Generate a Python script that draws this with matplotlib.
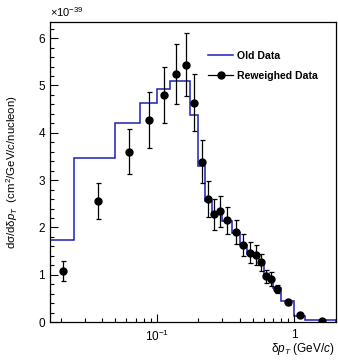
import numpy as np
import matplotlib
matplotlib.use("Agg")
import matplotlib.pyplot as plt
from matplotlib.lines import Line2D
from matplotlib.ticker import LogLocator, FixedLocator, FixedFormatter, MultipleLocator, NullFormatter

plt.rcParams["font.family"] = "Liberation Sans"
plt.rcParams["mathtext.fontset"] = "custom"
plt.rcParams["mathtext.rm"] = "Liberation Sans"
plt.rcParams["mathtext.it"] = "Liberation Sans:italic"
plt.rcParams["mathtext.bf"] = "Liberation Sans:bold"

# delta pT bins (GeV/c)
edges = np.array([0.0167, 0.025, 0.05, 0.075, 0.1, 0.125, 0.15, 0.175, 0.2, 0.225,
                  0.25, 0.275, 0.3, 0.35, 0.4, 0.45, 0.5, 0.55, 0.6, 0.65, 0.7,
                  0.8, 1.0, 1.2, 2.0])
# cross sections in units of 1e-39 cm^2/(GeV/c)/nucleon
old_data = [1.74, 3.47, 4.20, 4.62, 4.92, 5.10, 5.10, 4.37, 3.30, 2.55, 2.31, 2.32,
            2.13, 1.89, 1.62, 1.45, 1.39, 1.24, 1.01, 0.88, 0.72, 0.44, 0.13, 0.04]
reweighed = [1.08, 2.56, 3.60, 4.27, 4.80, 5.24, 5.44, 4.64, 3.39, 2.60, 2.28, 2.34,
             2.15, 1.91, 1.63, 1.47, 1.42, 1.27, 0.97, 0.91, 0.70, 0.42, 0.15, 0.03]
reweighed_err = [0.22, 0.38, 0.48, 0.60, 0.60, 0.63, 0.67, 0.60, 0.45, 0.38, 0.33, 0.33,
                 0.28, 0.25, 0.24, 0.22, 0.21, 0.18, 0.14, 0.14, 0.09, 0.05, 0.03, 0.01]

centers = 0.5 * (edges[:-1] + edges[1:])
blue = "#1f1fb8"

fig = plt.figure(figsize=(3.38, 3.64), dpi=100)
ax = fig.add_axes([0.148, 0.115, 0.845, 0.825])

ax.stairs(old_data, edges, color=blue, lw=1.1, baseline=0)
ax.errorbar(centers, reweighed, yerr=reweighed_err, fmt="o", color="black",
            ms=5, lw=0.9, capsize=1.8, capthick=0.9)

ax.set_xscale("log")
ax.set_xlim(edges[0], edges[-1])
ax.set_ylim(0, 6.345)

ax.xaxis.set_major_locator(FixedLocator([0.1, 1]))
ax.xaxis.set_major_formatter(FixedFormatter([r"$10^{-1}$", "1"]))
ax.xaxis.set_minor_locator(LogLocator(base=10, subs=np.arange(2, 10)))
ax.xaxis.set_minor_formatter(NullFormatter())
ax.yaxis.set_major_locator(MultipleLocator(1))
ax.yaxis.set_minor_locator(MultipleLocator(0.2))

ax.tick_params(which="both", direction="in", top=False, right=False, labelsize=8.5)
ax.tick_params(which="major", length=6, width=0.8)
ax.tick_params(which="minor", length=3, width=0.8)
ax.tick_params(axis="x", pad=5)
for s in ax.spines.values():
    s.set_linewidth(0.9)

ax.set_ylabel(r"dσ/dδ$p_{T}$  (cm$^{2}$/GeV/$c$/nucleon)", fontsize=8.2)
ax.yaxis.set_label_coords(-0.105, 0.5)
fig.text(0.99, 0.018, r"δ$p_{T}$ (GeV/$c$)", fontsize=8.5, ha="right", va="bottom")
fig.text(0.148, 0.948, r"$\times$10$^{-39}$", fontsize=8, ha="left", va="bottom")

handles = [Line2D([], [], color=blue, lw=1.1),
           Line2D([], [], color="black", lw=0.9, marker="o", ms=5)]
ax.legend(handles, ["Old Data", "Reweighed Data"], loc="upper left",
          bbox_to_anchor=(0.538, 0.917), frameon=False,
          prop={"weight": "bold", "size": 7.6}, handlelength=2.4, handletextpad=0.4,
          labelspacing=0.95, borderaxespad=0.0)

fig.savefig("out.png", dpi=100)
